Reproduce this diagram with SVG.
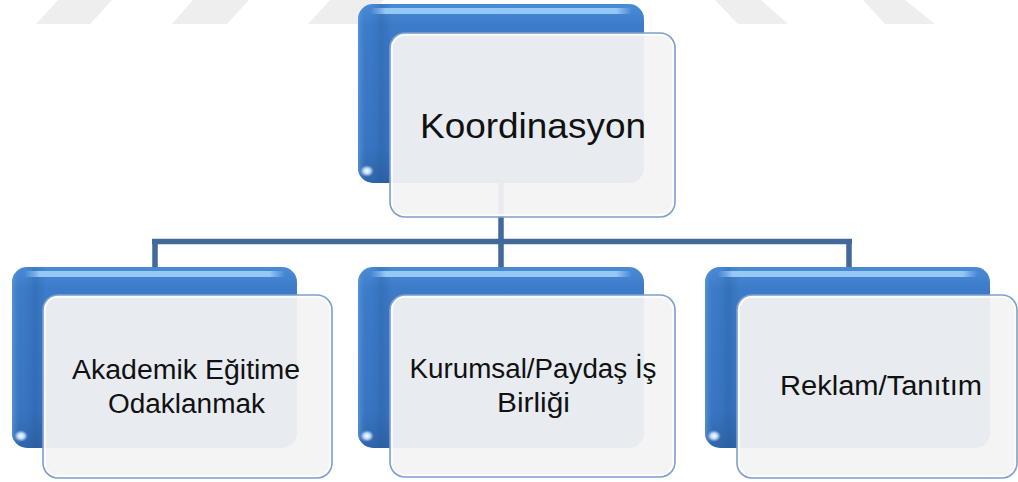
<svg xmlns="http://www.w3.org/2000/svg" width="1018" height="482" viewBox="0 0 1018 482">
<style>
.wm{fill:#eeeeee}
.back{fill:url(#backGrad)}
.shade{fill:url(#leftShade)}
.hl{fill:url(#hlGrad)}
.glow{fill:url(#glowGrad)}
.front{fill:#f3f3f3;fill-opacity:0.94;stroke:#7f9fcd;stroke-width:1.6}
.rim{fill:none;stroke:#ffffff;stroke-width:1.5;stroke-opacity:0.9}
.conn{fill:none;stroke:#41699a;stroke-width:5.5}
.lbl{font-family:"Liberation Sans","Open Sans",Arial,sans-serif;fill:#111111;text-anchor:middle}
.big{font-size:35px}
.sm{font-size:27px}
</style>
<defs>
<linearGradient id="backGrad" x1="0" y1="0" x2="0" y2="1">
<stop offset="0" stop-color="#4a8bd6"/>
<stop offset="0.12" stop-color="#3c7bc8"/>
<stop offset="0.8" stop-color="#3874c1"/>
<stop offset="1" stop-color="#2f64a8"/>
</linearGradient>
<linearGradient id="leftShade" x1="0" y1="0" x2="1" y2="0">
<stop offset="0" stop-color="#6aa3e6" stop-opacity="0.6"/>
<stop offset="0.03" stop-color="#3c7bc8" stop-opacity="0"/>
<stop offset="0.08" stop-color="#1f4f8f" stop-opacity="0.25"/>
<stop offset="0.12" stop-color="#1f4f8f" stop-opacity="0"/>
</linearGradient>
<linearGradient id="hlGrad" x1="0" y1="0" x2="1" y2="0">
<stop offset="0" stop-color="#9fd0fa" stop-opacity="0"/>
<stop offset="0.06" stop-color="#9fd0fa" stop-opacity="0.9"/>
<stop offset="0.94" stop-color="#9fd0fa" stop-opacity="0.9"/>
<stop offset="1" stop-color="#9fd0fa" stop-opacity="0"/>
</linearGradient>
<radialGradient id="glowGrad" cx="0.5" cy="0.5" r="0.5">
<stop offset="0" stop-color="#ffffff" stop-opacity="1"/>
<stop offset="0.5" stop-color="#dff0ff" stop-opacity="0.8"/>
<stop offset="1" stop-color="#9fd0fa" stop-opacity="0"/>
</radialGradient>
</defs>

<g id="watermark">
<polygon class="wm" points="36,24 90,24 112,0 58,0"/>
<polygon class="wm" points="172,24 227,24 249,0 193,0"/>
<polygon class="wm" points="308,24 362,24 384,0 330,0"/>
<polygon class="wm" points="715,0 761,0 788,24 738,24"/>
<polygon class="wm" points="863,0 905,0 935,24 885,24"/>
</g>

<g id="connectors">
<path class="conn" d="M501,183 V241.5 M152,241.5 H852 M155,241.5 V268 M501,241.5 V268 M849,241.5 V268"/>
</g>

<g id="node-koordinasyon">
<rect class="back" x="358" y="4" width="286" height="179" rx="15"/>
<rect class="shade" x="358" y="4" width="286" height="179" rx="15"/>
<rect class="hl" x="370" y="8" width="262" height="6" rx="3"/>
<ellipse class="glow" cx="367" cy="171" rx="7" ry="6"/>
<rect class="front" x="390" y="33" width="285" height="184" rx="15"/>
<rect class="rim" x="392" y="35" width="281" height="180" rx="13"/>
<text class="lbl big" x="533" y="138" textLength="226" lengthAdjust="spacingAndGlyphs">Koordinasyon</text>
</g>

<g id="node-akademik">
<rect class="back" x="12" y="267" width="285" height="181" rx="15"/>
<rect class="shade" x="12" y="267" width="285" height="181" rx="15"/>
<rect class="hl" x="24" y="271" width="261" height="6" rx="3"/>
<ellipse class="glow" cx="21" cy="436" rx="7" ry="6"/>
<rect class="front" x="43" y="295" width="289" height="183" rx="15"/>
<rect class="rim" x="45" y="297" width="285" height="179" rx="13"/>
<text class="lbl sm" x="186" y="379" textLength="228" lengthAdjust="spacingAndGlyphs">Akademik Eğitime</text>
<text class="lbl sm" x="186.5" y="413" textLength="157" lengthAdjust="spacingAndGlyphs">Odaklanmak</text>
</g>

<g id="node-kurumsal">
<rect class="back" x="358" y="267" width="286" height="181" rx="15"/>
<rect class="shade" x="358" y="267" width="286" height="181" rx="15"/>
<rect class="hl" x="370" y="271" width="262" height="6" rx="3"/>
<ellipse class="glow" cx="367" cy="436" rx="7" ry="6"/>
<rect class="front" x="390" y="295" width="285" height="182" rx="15"/>
<rect class="rim" x="392" y="297" width="281" height="178" rx="13"/>
<text class="lbl sm" x="533" y="378" textLength="247" lengthAdjust="spacingAndGlyphs">Kurumsal/Paydaş İş</text>
<text class="lbl sm" x="533.5" y="412" textLength="73" lengthAdjust="spacingAndGlyphs">Birliği</text>
</g>

<g id="node-reklam">
<rect class="back" x="705" y="267" width="285" height="181" rx="15"/>
<rect class="shade" x="705" y="267" width="285" height="181" rx="15"/>
<rect class="hl" x="717" y="271" width="261" height="6" rx="3"/>
<ellipse class="glow" cx="714" cy="436" rx="7" ry="6"/>
<rect class="front" x="737" y="295" width="280" height="183" rx="15"/>
<rect class="rim" x="739" y="297" width="276" height="179" rx="13"/>
<text class="lbl sm" x="881" y="395" textLength="202" lengthAdjust="spacingAndGlyphs">Reklam/Tanıtım</text>
</g>
</svg>
